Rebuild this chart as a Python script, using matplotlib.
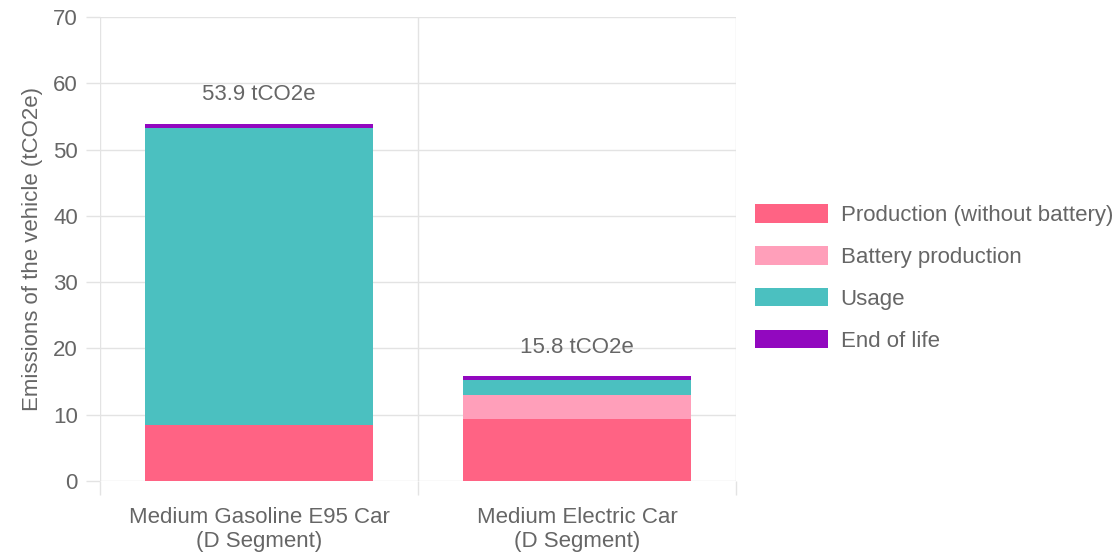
import matplotlib.pyplot as plt
from matplotlib.patches import Patch
import numpy as np

plt.rcParams['font.family'] = ['Liberation Sans', 'DejaVu Sans']

cars = ['Medium Gasoline E95 Car\n(D Segment)', 'Medium Electric Car\n(D Segment)']
stages = ['Production (without battery)', 'Battery production', 'Usage', 'End of life']
production = [8.5, 9.3]
battery = [0.0, 3.7]
usage = [44.8, 2.2]
end_of_life = [0.6, 0.6]
totals = [53.9, 15.8]

colors = ['#ff6384', '#ff9fba', '#4bc0c0', '#9208bf']
grid_c = '#e3e3e3'
text_c = '#666666'
fs = 16

fig = plt.figure(figsize=(11.2, 5.54), dpi=100)
ax = fig.add_axes([100/1120, 1 - 481/554, 636/1120, 464/554])

x = np.arange(len(cars))
bottom = np.zeros(len(cars))
for vals, c in zip([production, battery, usage, end_of_life], colors):
    ax.bar(x, vals, width=0.72, bottom=bottom, color=c, linewidth=0, zorder=2)
    bottom += np.array(vals)

# stack totals above each bar
for xi, t in zip(x, totals):
    ax.annotate(f'{t} tCO2e', (xi, t), xytext=(0, 21), textcoords='offset points',
                ha='center', va='center', fontsize=fs, color=text_c)

ax.set_xlim(-0.5, 1.5)
ax.set_ylim(0, 70)
ax.set_yticks(np.arange(0, 71, 10))
ax.set_xticks(x)
ax.set_xticklabels(cars, linespacing=1.15)
ax.set_xticks([-0.5, 0.5, 1.5], minor=True)

for s in ax.spines.values():
    s.set_visible(False)
ax.set_axisbelow(True)
ax.grid(axis='y', which='major', color=grid_c, linewidth=1.0)
ax.grid(axis='x', which='minor', color=grid_c, linewidth=1.0)
ax.grid(axis='x', which='major', visible=False)
ax.tick_params(axis='y', length=10, width=1.0, color=grid_c, pad=6,
               labelsize=fs, labelcolor=text_c)
ax.tick_params(axis='x', which='major', length=0, pad=19,
               labelsize=fs, labelcolor=text_c)
ax.tick_params(axis='x', which='minor', length=10, width=1.0, color=grid_c)

ax.set_ylabel('Emissions of the vehicle (tCO2e)', fontsize=fs, color=text_c, labelpad=7)

handles = [Patch(facecolor=c, edgecolor='none') for c in colors]
fig.legend(handles, stages, loc='center left', bbox_to_anchor=(755/1120, 1 - 278/554),
           frameon=False, fontsize=fs, labelcolor=text_c, handlelength=3.3,
           handleheight=0.9, handletextpad=0.55, labelspacing=0.9, borderpad=0,
           borderaxespad=0)

fig.savefig('out.png', dpi=100)
